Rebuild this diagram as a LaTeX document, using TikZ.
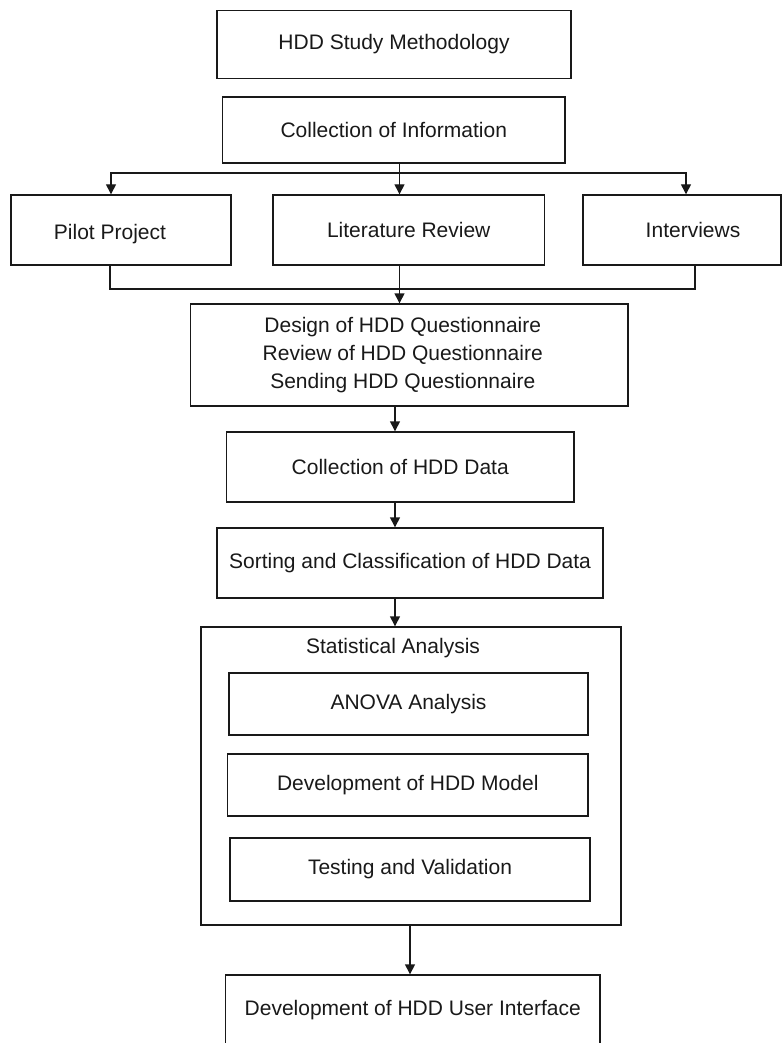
\documentclass[tikz,border=0pt]{standalone}
\usepackage{fontspec}
\setmainfont{Liberation Sans}
\usetikzlibrary{arrows.meta}
\begin{document}
\begin{tikzpicture}[x=1pt,y=-1pt,
  box/.style={draw=black!90, line width=1.4pt, rectangle, inner sep=0pt, align=center,
    font=\fontsize{21}{27.5}\selectfont, text=black!90},
  lbl/.style={inner sep=0pt, font=\fontsize{21}{27.5}\selectfont, text=black!90},
  conn/.style={draw=black!90, line width=1.4pt},
  arr/.style={conn, -{Triangle[width=10pt,length=10pt]}}]
\useasboundingbox (0,0) rectangle (782,1043);
\clip (0,0) rectangle (782,1043);
\node[box, minimum width=354pt, minimum height=68pt] (top) at (394,44.5) {HDD Study Methodology};
\node[box, minimum width=342.5pt, minimum height=66pt] (coi) at (393.75,130) {Collection of Information};
\node[box, minimum width=220pt, minimum height=70pt] (pilot) at (121,230) {\hspace*{-22pt}\raisebox{-4pt}[\height][\depth]{Pilot Project}};
\node[box, minimum width=271.5pt, minimum height=70pt] (lit) at (408.75,230) {Literature Review};
\node[box, minimum width=198pt, minimum height=70pt] (intv) at (682,230) {Interviews\hspace*{-22pt}};
\node[box, minimum width=437.5pt, minimum height=102pt] (design) at (409.25,355) {\hspace*{-13pt}\begin{tabular}{@{}c@{}}Design of HDD Questionnaire\\[0.5pt] Review of HDD Questionnaire\\[0.5pt] Sending HDD Questionnaire\end{tabular}};
\node[box, minimum width=347.5pt, minimum height=70pt] (cdata) at (400.25,467) {Collection of HDD Data};
\node[box, minimum width=386pt, minimum height=70pt] (sort) at (410,563) {Sorting and Classification of HDD Data};
\node[box, minimum width=420pt, minimum height=298pt] (stat) at (411,776) {};
\node[lbl] (stattitle) at (393,648) {Statistical Analysis};
\node[box, minimum width=359pt, minimum height=62pt] (anova) at (408.5,704) {ANOVA Analysis};
\node[box, minimum width=360.5pt, minimum height=62pt] (model) at (407.75,785) {Development of HDD Model};
\node[box, minimum width=360pt, minimum height=63pt] (test) at (410,869.5) {Testing and Validation};
\node[box, minimum width=374.5pt, minimum height=70pt] (ui) at (412.75,1010) {Development of HDD User Interface};
\coordinate (split) at (399.5,173);
\coordinate (merge) at (399.5,289);
\coordinate (ax) at (395,0);
\draw[conn] (split |- coi.south) -- (split);
\draw[arr] (split) -| ([xshift=-10pt]pilot.north);
\draw[arr] (split) -- (split |- lit.north);
\draw[arr] (split) -| ([xshift=4pt]intv.north);
\draw[conn] ([xshift=-11pt]pilot.south) |- (merge) -| ([xshift=13pt]intv.south);
\draw[arr] (merge |- lit.south) -- (merge |- design.north);
\draw[arr] (design.south -| ax) -- (cdata.north -| ax);
\draw[arr] (cdata.south -| ax) -- (sort.north -| ax);
\draw[arr] (sort.south -| ax) -- (stat.north -| ax);
\draw[arr] ([xshift=-1pt]stat.south) -- ([xshift=-1pt]stat.south |- ui.north);
\end{tikzpicture}
\end{document}
